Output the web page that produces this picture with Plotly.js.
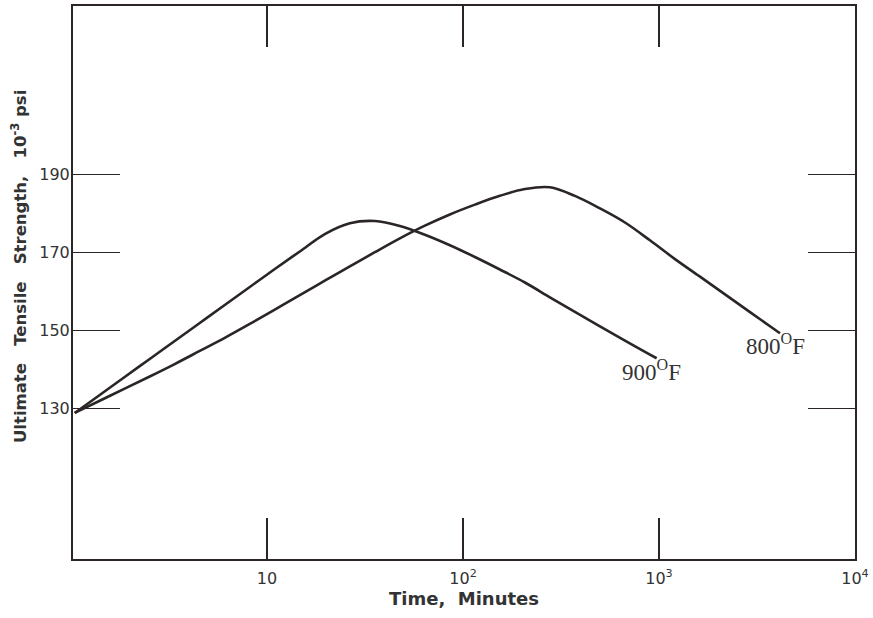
<!DOCTYPE html>
<html>
<head>
<meta charset="utf-8">
<script src="https://cdn.plot.ly/plotly-3.0.1.min.js"></script>
<style>
html,body{margin:0;padding:0;background:#fff;}
#chart{width:873px;height:618px;}
</style>
</head>
<body>
<div id="chart"></div>
<script>
// Time in minutes, strength in 10^3 psi
const time900 = [1.044, 1.401, 1.878, 2.521, 3.381, 4.537, 6.085, 8.166, 10.96, 14.70, 19.71, 26.45, 35.49, 47.62, 63.90, 85.69, 115.0, 154.2, 206.9, 277.5, 372.4, 499.5, 670.2, 898.9, 972.8];
const strength900 = [128.90, 133.51, 138.11, 142.72, 147.33, 151.93, 156.54, 161.15, 165.76, 170.24, 174.71, 177.48, 178.04, 176.79, 174.54, 171.85, 168.83, 165.63, 162.30, 158.51, 154.75, 151.06, 147.43, 143.85, 142.90];

const time800 = [1.044, 1.401, 1.878, 2.521, 3.381, 4.537, 6.085, 8.166, 10.96, 14.70, 19.71, 26.45, 35.49, 47.62, 63.90, 85.69, 115.0, 154.2, 206.9, 277.5, 372.4, 499.5, 670.2, 898.9, 1206.5, 1618.7, 2171.5, 2913, 3907, 4145];
const strength800 = [128.90, 132.02, 135.14, 138.24, 141.42, 144.77, 148.12, 151.68, 155.36, 159.08, 162.76, 166.42, 170.06, 173.61, 176.86, 179.73, 182.24, 184.49, 186.23, 186.69, 184.47, 181.28, 177.66, 173.10, 168.29, 163.79, 159.26, 154.72, 150.19, 149.30];

const xTickVals = [10, 100, 1000, 10000];
const xTickText = ["10", "10<sup>2</sup>", "10<sup>3</sup>", "10<sup>4</sup>"];
const yTickVals = [130, 150, 170, 190];
const yTickText = ["130", "150", "170", "190"];

const seriesLabels = ["900<sup>O</sup>F", "800<sup>O</sup>F"];

const ink = "#2b2625";
const sp = "\u00A0";

const traces = [
  {x: time900, y: strength900, mode: "lines", line: {color: ink, width: 2.6, shape: "spline", smoothing: 1}, name: "900°F", hoverinfo: "skip"},
  {x: time800, y: strength800, mode: "lines", line: {color: ink, width: 2.6, shape: "spline", smoothing: 1}, name: "800°F", hoverinfo: "skip"}
];

const layout = {
  width: 873, height: 618,
  margin: {l: 73, r: 18, t: 6, b: 59},
  paper_bgcolor: "#fff", plot_bgcolor: "#fff",
  showlegend: false,
  font: {family: "DejaVu Sans", color: "#333"},
  xaxis: {
    type: "log", range: [0.01, 4],
    tickvals: xTickVals, ticktext: xTickText,
    ticks: "inside", ticklen: 41, tickwidth: 1.6, tickcolor: ink,
    showline: true, linecolor: ink, linewidth: 2, mirror: "ticks",
    showgrid: false, zeroline: false,
    tickfont: {family: "DejaVu Sans", size: 16, color: "#333"},
    ticklabelstandoff: 4,
    title: {text: "Time," + sp + sp + "Minutes", font: {family: "DejaVu Sans", size: 18, color: "#333", weight: "bold"}, standoff: 4}
  },
  yaxis: {
    range: [91.5, 233.1],
    tickvals: yTickVals, ticktext: yTickText,
    ticks: "inside", ticklen: 47, tickwidth: 1.6, tickcolor: ink,
    showline: true, linecolor: ink, linewidth: 2, mirror: "ticks",
    showgrid: false, zeroline: false,
    tickfont: {family: "DejaVu Sans", size: 16, color: "#333"},
    ticklabelstandoff: -2
  },
  annotations: [
    {x: -0.069, y: 0.528, xref: "paper", yref: "paper", xanchor: "center", yanchor: "middle", textangle: -90, showarrow: false,
     text: "Ultimate" + sp + sp + sp + "Tensile" + sp + sp + sp + "Strength," + sp + sp + sp + "10<sup>-3</sup> psi",
     font: {family: "DejaVu Sans", size: 16.5, color: "#333", weight: "bold"}},
    {x: 2.964, y: 139.8, xref: "x", yref: "y", text: seriesLabels[0], showarrow: false,
     font: {family: "Liberation Serif", size: 23, color: "#333"}},
    {x: 3.592, y: 146.3, xref: "x", yref: "y", text: seriesLabels[1], showarrow: false,
     font: {family: "Liberation Serif", size: 23, color: "#333"}}
  ]
};

Plotly.newPlot("chart", traces, layout, {displayModeBar: false, staticPlot: true});
</script>
</body>
</html>
